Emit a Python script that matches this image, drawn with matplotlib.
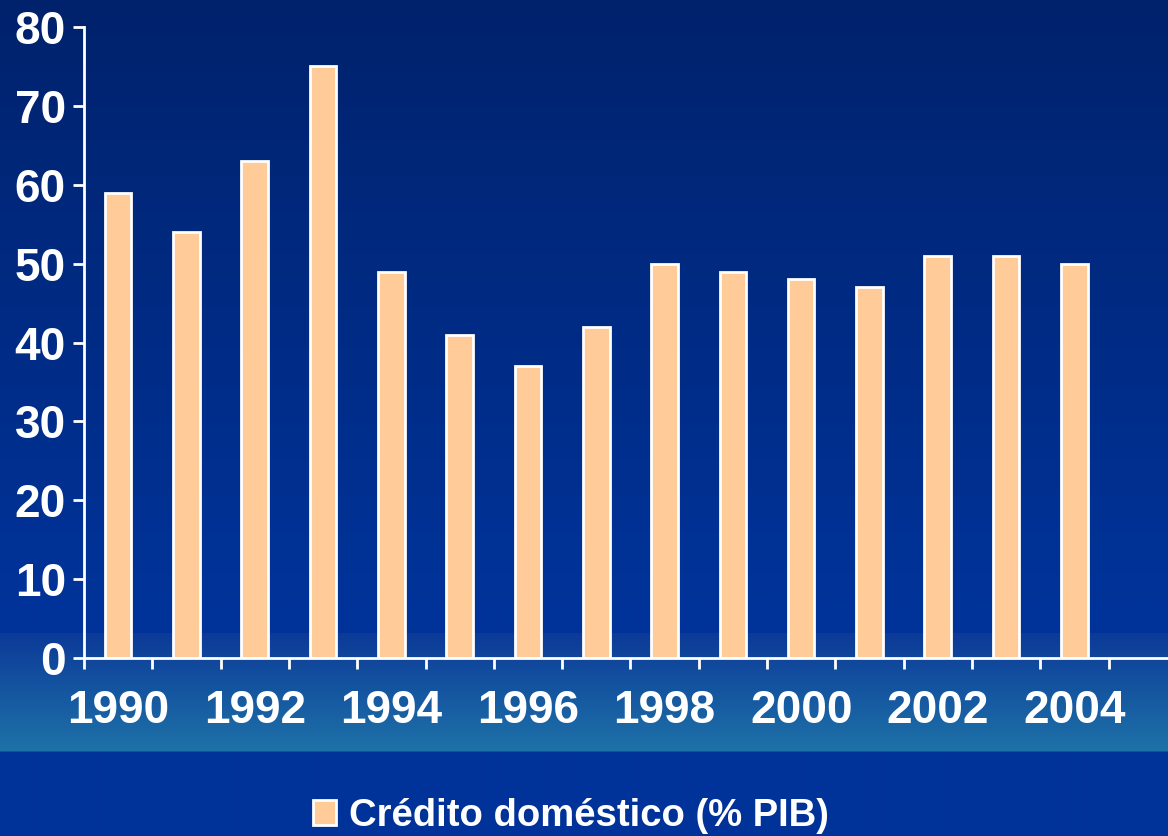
import matplotlib
matplotlib.use("Agg")
import matplotlib.pyplot as plt
import numpy as np

# data
years = list(range(1990, 2005))
credito = [59, 54, 63, 75, 49, 41, 37, 42, 50, 49, 48, 47, 51, 51, 50]
tick_labels = ["1990", "1992", "1994", "1996", "1998", "2000", "2002", "2004"]
yticks = [0, 10, 20, 30, 40, 50, 60, 70, 80]
serie = "Crédito doméstico (% PIB)"

plt.rcParams['font.family'] = ['Liberation Sans', 'DejaVu Sans']
plt.rcParams['font.weight'] = 'bold'

W, H = 1168, 836
fig = plt.figure(figsize=(W / 100, H / 100), dpi=100)

# background gradient (rows in pixels from the top)
rows = np.arange(H)
stops = [0, 600, 632, 633, 750, 752, 836]
r = np.interp(rows, stops, [0, 0, 0, 12, 30, 0, 0])
g = np.interp(rows, stops, [34, 51, 51, 58, 114, 51, 51])
b = np.interp(rows, stops, [108, 153, 153, 152, 168, 153, 153])
grad = np.stack([r, g, b], axis=1)[:, None, :] / 255.0
grad = np.repeat(grad, 2, axis=1)
bg = fig.add_axes([0, 0, 1, 1])
bg.imshow(grad, aspect='auto', extent=[0, 1, 0, 1], interpolation='bilinear')
bg.axis('off')

# plot area: 16 category slots, the last one runs off the right edge
left, bottom = 84 / W, 1 - 658 / H
width, height = 16 * 68.3 / W, (658 - 27) / H
ax = fig.add_axes([left, bottom, width, height])
ax.patch.set_alpha(0)

x = np.arange(len(years))
bars = ax.bar(x, credito, width=0.39, color='#FFCC99', edgecolor='white',
              linewidth=2, label=serie)

ax.set_xlim(-0.5, 15.5)
ax.set_ylim(0, 80)
ax.set_yticks(yticks)
ax.set_yticklabels([str(v) for v in yticks])
ax.set_xticks(np.arange(-0.5, 16, 1))
ax.set_xticklabels([])
ax.set_xticks(x[::2], minor=True)
ax.set_xticklabels(tick_labels, minor=True)

for s in ['top', 'right']:
    ax.spines[s].set_visible(False)
for s in ['left', 'bottom']:
    ax.spines[s].set_color('white')
    ax.spines[s].set_linewidth(2)

ax.tick_params(axis='y', colors='white', length=8, width=2, pad=5,
               labelsize=33, direction='out')
ax.tick_params(axis='x', which='major', colors='white', length=8, width=2,
               direction='out')
ax.tick_params(axis='x', which='minor', length=0, pad=22, labelsize=33,
               labelcolor='white')
for lab in ax.get_yticklabels() + ax.get_xticklabels(minor=True):
    lab.set_fontweight('bold')

leg = fig.legend(handles=[bars], labels=[serie], loc='center',
                 bbox_to_anchor=(0.489, 0.024), frameon=False,
                 prop={'size': 27.5, 'weight': 'bold'},
                 handlelength=0.6, handleheight=0.6, handletextpad=0.35)
for t in leg.get_texts():
    t.set_color('white')

fig.savefig("out.png", dpi=100)
